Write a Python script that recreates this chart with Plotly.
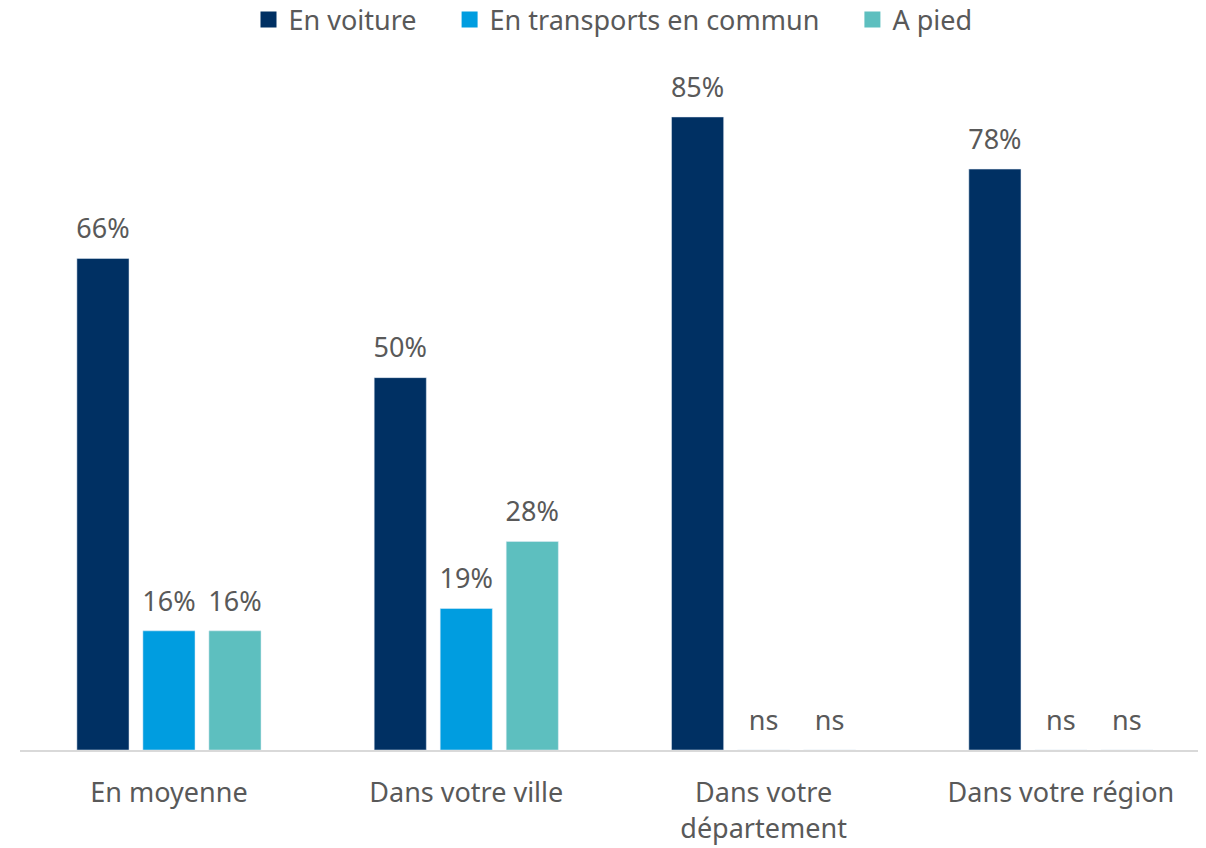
import plotly.graph_objects as go

# Data
categories = ["En moyenne", "Dans votre ville", "Dans votre<br>département", "Dans votre région"]
series_names = ["En voiture", "En transports en commun", "A pied"]
voiture = [66, 50, 85, 78]
transports = [16, 19, 0, 0]
pied = [16, 28, 0, 0]
voiture_labels = ["66%", "50%", "85%", "78%"]
transports_labels = ["16%", "19%", "ns", "ns"]
pied_labels = ["16%", "28%", "ns", "ns"]
colors = ["#003063", "#009de0", "#5dbfbf"]

FONT = "'Noto Sans', sans-serif"
LABEL_COLOR = "#595959"
FS = 27
PAD = "\u00a0" * 4  # extra room between legend items

fig = go.Figure()

series = list(zip(series_names, [voiture, transports, pied],
                  [voiture_labels, transports_labels, pied_labels], colors))

for i, (name, vals, labels, color) in enumerate(series):
    fig.add_trace(go.Bar(
        x=categories, y=vals, marker=dict(color=color),
        offsetgroup=str(i), showlegend=False, hoverinfo="skip",
    ))
    # value labels: invisible marker keeps the text a bit above the bar top
    fig.add_trace(go.Scatter(
        x=categories, y=vals, mode="markers+text", offsetgroup=str(i),
        text=labels, textposition="top center",
        textfont=dict(size=FS, color=LABEL_COLOR, family=FONT),
        marker=dict(size=20, opacity=0), showlegend=False, cliponaxis=False,
    ))

# legend entries with bigger square swatches
for i, (name, vals, labels, color) in enumerate(series):
    fig.add_trace(go.Scatter(
        x=[None], y=[None], mode="markers", name=name + (PAD if i < 2 else ""),
        marker=dict(symbol="square", size=17, color=color),
    ))

# page body adds an 8px offset, so the figure is a bit smaller than the window
fig.update_layout(
    width=1198, height=840,
    margin=dict(l=12, r=0, t=52, b=98, autoexpand=False),
    barmode="group", bargap=0.334, bargroupgap=0.21,
    scattermode="group", scattergap=0.334,
    plot_bgcolor="white", paper_bgcolor="white",
    font=dict(family=FONT, size=FS, color=LABEL_COLOR),
    legend=dict(orientation="h", x=0.5, xanchor="center", y=1.058, yanchor="middle",
                font=dict(size=FS, color=LABEL_COLOR), traceorder="normal",
                itemwidth=30, tracegroupgap=0),
    showlegend=True,
)
fig.update_xaxes(
    range=[-0.501, 3.488], showline=True, linecolor="#d9d9d9", linewidth=2,
    ticks="", tickfont=dict(size=FS, color=LABEL_COLOR), ticklabelstandoff=18,
    automargin=False,
)
fig.update_yaxes(range=[0, 92.65], visible=False, showgrid=False, automargin=False)

fig.write_html("out.html")
